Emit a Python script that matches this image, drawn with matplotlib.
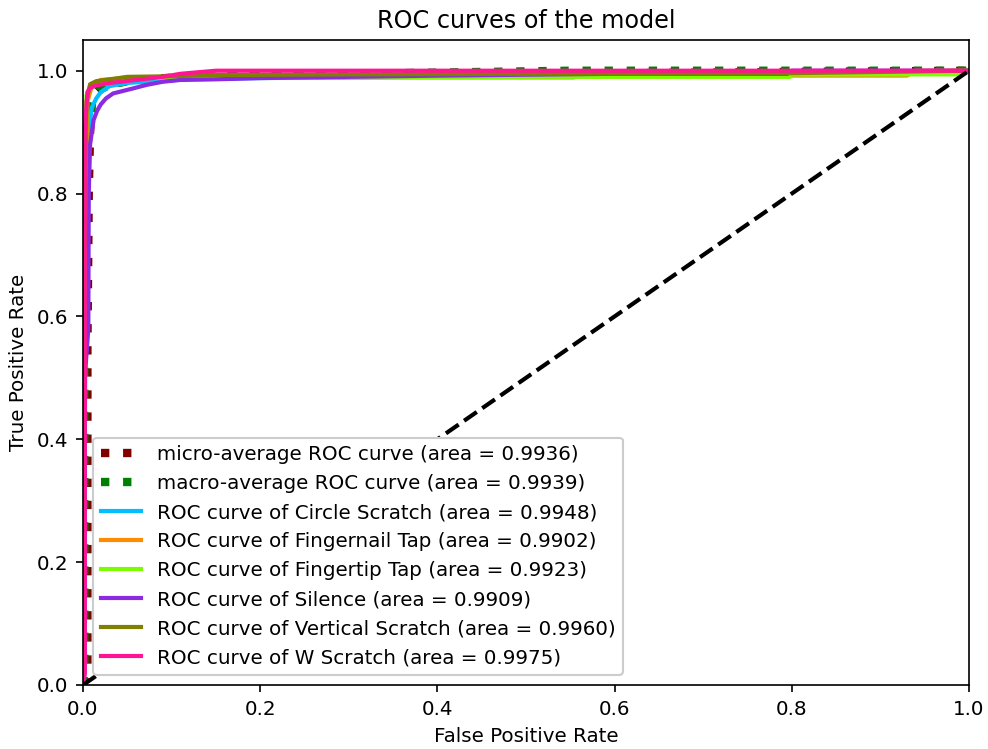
import matplotlib
matplotlib.use("Agg")
import matplotlib.pyplot as plt

plt.rcParams["font.size"] = 9.55

# ---- data ----
micro_fpr = [0.0, 0.005, 0.005, 0.0065, 0.008, 0.01, 0.015, 0.02, 0.03, 0.05, 0.08, 0.12, 0.2, 0.4, 0.6, 0.8, 1.0]
micro_tpr = [0.0, 0.02, 0.55, 0.80, 0.90, 0.95, 0.965, 0.972, 0.978, 0.983, 0.987, 0.990, 0.992, 0.994, 0.996, 0.998, 1.0]
micro_auc = 0.9936

macro_fpr = [0.0, 0.0015, 0.0015, 0.004, 0.006, 0.008, 0.01, 0.015, 0.02, 0.03, 0.05, 0.08, 0.12, 0.2, 0.3, 0.55, 1.0]
macro_tpr = [0.0, 0.02, 0.60, 0.85, 0.91, 0.93, 0.945, 0.96, 0.97, 0.977, 0.983, 0.987, 0.990, 0.992, 0.995, 1.0, 1.0]
macro_auc = 0.9939

class_names = ["Circle Scratch", "Fingernail Tap", "Fingertip Tap", "Silence", "Vertical Scratch", "W Scratch"]
class_aucs = [0.9948, 0.9902, 0.9923, 0.9909, 0.9960, 0.9975]
class_colors = ["deepskyblue", "darkorange", "lawngreen", "blueviolet", "olive", "deeppink"]

circle_fpr = [0.0, 0.002, 0.004, 0.006, 0.01, 0.015, 0.02, 0.03, 0.05, 0.08, 0.12, 0.2, 0.55, 0.9, 1.0]
circle_tpr = [0.0, 0.40, 0.80, 0.90, 0.94, 0.955, 0.965, 0.975, 0.980, 0.983, 0.986, 0.988, 0.992, 0.995, 1.0]

fnail_fpr = [0.0, 0.002, 0.005, 0.01, 0.02, 0.05, 0.1, 0.3, 0.553, 0.56, 0.8, 0.93, 0.94, 1.0]
fnail_tpr = [0.0, 0.70, 0.95, 0.975, 0.985, 0.988, 0.989, 0.989, 0.989, 0.991, 0.992, 0.992, 1.0, 1.0]

ftip_fpr = [0.0, 0.002, 0.004, 0.008, 0.015, 0.03, 0.06, 0.2, 0.5, 0.798, 0.8, 0.99, 1.0]
ftip_tpr = [0.0, 0.80, 0.96, 0.975, 0.980, 0.985, 0.988, 0.989, 0.990, 0.990, 0.994, 0.994, 1.0]

silence_fpr = [0.0, 0.002, 0.002, 0.006, 0.0065, 0.008, 0.01, 0.012, 0.016, 0.02, 0.026, 0.034, 0.045, 0.056, 0.072, 0.09, 0.11, 0.15, 0.2, 0.4, 0.6, 0.795, 0.8, 1.0]
silence_tpr = [0.0, 0.02, 0.50, 0.58, 0.80, 0.88, 0.90, 0.92, 0.935, 0.945, 0.955, 0.963, 0.967, 0.971, 0.977, 0.982, 0.985, 0.986, 0.988, 0.992, 0.995, 0.995, 1.0, 1.0]

vert_fpr = [0.0, 0.002, 0.004, 0.008, 0.015, 0.03, 0.05, 0.1, 0.15, 0.3, 0.5, 0.8, 1.0]
vert_tpr = [0.0, 0.70, 0.95, 0.978, 0.983, 0.986, 0.990, 0.991, 0.993, 0.994, 0.995, 0.996, 1.0]

w_fpr = [0.0, 0.002, 0.002, 0.005, 0.008, 0.015, 0.03, 0.06, 0.09, 0.11, 0.15, 1.0]
w_tpr = [0.0, 0.02, 0.90, 0.965, 0.972, 0.976, 0.980, 0.985, 0.990, 0.995, 1.0, 1.0]

class_fprs = [circle_fpr, fnail_fpr, ftip_fpr, silence_fpr, vert_fpr, w_fpr]
class_tprs = [circle_tpr, fnail_tpr, ftip_tpr, silence_tpr, vert_tpr, w_tpr]

# ---- plot ----
fig = plt.figure(figsize=(988 / 150, 749 / 150), dpi=150)
ax = fig.add_axes([83 / 988, 1 - 685 / 749, (969 - 83) / 988, (685 - 40) / 749])

ax.plot(micro_fpr, micro_tpr, color="maroon", linestyle=":", linewidth=4,
        label="micro-average ROC curve (area = {0:0.4f})".format(micro_auc))
ax.plot(macro_fpr, macro_tpr, color="green", linestyle=":", linewidth=4,
        label="macro-average ROC curve (area = {0:0.4f})".format(macro_auc))
for name, auc, col, f, t in zip(class_names, class_aucs, class_colors, class_fprs, class_tprs):
    ax.plot(f, t, color=col, linewidth=2,
            label="ROC curve of {0} (area = {1:0.4f})".format(name, auc))

ax.plot([0, 1], [0, 1], "k--", linewidth=2)
ax.set_xlim([0.0, 1.0])
ax.set_ylim([0.0, 1.05])
ax.set_xlabel("False Positive Rate")
ax.set_ylabel("True Positive Rate")
ax.set_title("ROC curves of the model")
ax.legend(loc="lower left", framealpha=1.0)

fig.savefig("out.png", dpi=150)
